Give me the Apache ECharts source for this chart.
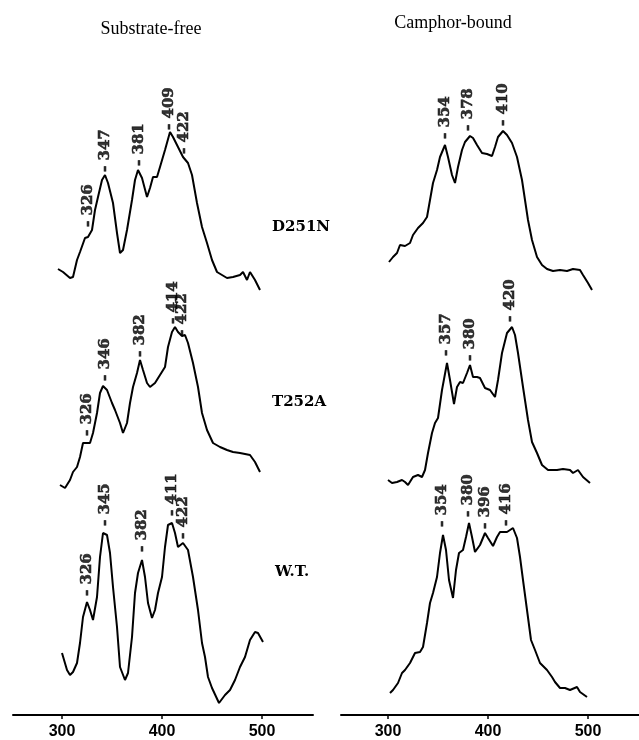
<!DOCTYPE html>
<html>
<head>
<meta charset="utf-8">
<script src="https://cdn.jsdelivr.net/npm/echarts@6/dist/echarts.min.js"></script>
<style>
  html, body { margin: 0; padding: 0; background: #fff; }
  #chart { width: 639px; height: 740px; }
</style>
</head>
<body>
<div id="chart"></div>
<script>
const tickLabels = [300, 400, 500];
const panelTitles = ['Substrate-free', 'Camphor-bound'];
const rowNames = ['D251N', 'T252A', 'W.T.'];

// substrate-free spectra, [wavelength nm, relative intensity]
const freeD251N = [[296,21],[301,18],[308,12],[311,13],[315,30],[318,38],[323,52],[326,53],[330,60],[333,80],[336,93],[340,110],[343,115],[346,107],[351,87],[355,57],[358,37],[361,40],[365,60],[370,90],[373,110],[376,120],[380,112],[385,93],[388,102],[391,113],[395,113],[398,123],[403,140],[408,158],[411,153],[416,143],[421,133],[426,127],[430,115],[435,87],[440,63],[445,47],[450,30],[455,18],[460,15],[465,12],[471,13],[478,15],[481,18],[485,10],[488,18],[493,10],[498,0]];
const freeT252A = [[298,5],[303,2],[308,10],[311,18],[315,23],[318,33],[321,47],[325,47],[328,47],[331,57],[335,77],[338,97],[341,104],[345,100],[350,87],[353,80],[358,67],[361,57],[365,67],[368,87],[371,103],[375,117],[378,130],[381,120],[385,107],[388,103],[393,107],[398,115],[403,123],[406,143],[410,158],[413,163],[416,158],[420,154],[423,155],[426,147],[431,127],[436,103],[440,77],[445,60],[451,47],[458,43],[465,40],[471,38],[478,37],[488,35],[493,28],[498,18]];
const freeWT = [[300,52],[305,35],[308,30],[311,33],[315,42],[318,62],[321,88],[325,103],[328,95],[331,85],[335,108],[338,148],[341,172],[345,170],[348,152],[351,118],[355,78],[358,38],[363,25],[366,32],[370,68],[373,112],[376,132],[380,145],[383,128],[386,102],[390,87],[393,95],[396,112],[400,128],[403,158],[406,180],[410,182],[413,172],[416,158],[421,162],[426,155],[431,128],[436,95],[440,62],[443,48],[446,28],[450,17],[457,2],[463,10],[468,15],[473,25],[478,38],[483,48],[488,65],[493,73],[496,72],[501,63]];

// camphor-bound spectra
const boundD251N = [[301,28],[305,33],[309,37],[312,45],[317,44],[322,47],[325,55],[330,62],[335,67],[339,73],[342,90],[345,107],[349,120],[352,133],[357,145],[360,133],[364,115],[367,107],[370,123],[374,140],[377,148],[382,154],[385,152],[389,145],[394,137],[399,136],[404,134],[407,143],[410,153],[415,159],[419,155],[424,147],[429,133],[434,110],[437,90],[440,70],[444,50],[449,33],[454,25],[459,21],[465,19],[472,20],[479,19],[485,21],[492,20],[495,15],[500,7],[504,0]];
const boundT252A = [[300,10],[304,7],[309,8],[314,10],[317,8],[320,5],[325,13],[330,15],[334,13],[337,20],[340,37],[344,57],[347,67],[350,72],[354,100],[359,127],[362,110],[366,86],[369,103],[372,108],[375,107],[379,117],[382,125],[385,113],[389,113],[392,112],[397,102],[402,100],[407,93],[410,110],[414,137],[419,157],[424,163],[427,155],[430,137],[435,103],[440,70],[444,48],[449,37],[454,25],[460,20],[469,20],[475,21],[482,20],[485,17],[490,20],[495,13],[502,7]];
const boundWT = [[302,12],[305,15],[310,22],[314,32],[317,35],[322,42],[327,52],[332,53],[335,58],[339,82],[342,102],[345,112],[349,128],[352,152],[355,170],[358,155],[361,125],[365,107],[368,135],[371,152],[375,155],[378,168],[381,182],[384,168],[387,153],[392,160],[397,172],[400,167],[405,159],[409,168],[412,173],[419,173],[425,177],[429,167],[432,148],[435,125],[439,95],[443,65],[447,55],[452,42],[459,35],[464,28],[467,23],[472,17],[477,17],[482,15],[489,18],[492,13],[499,8]];

// peak annotations [wavelength, label height, text]
const freePeaksD251N = [[326,63,'326'],[343,118,'347'],[377,124,'381'],[407,160,'409'],[422,136,'422']];
const freePeaksT252A = [[325,54,'326'],[343,109,'346'],[378,133,'382'],[411,166,'414'],[420,154,'422']];
const freePeaksWT = [[325,109,'326'],[343,179,'345'],[380,153,'382'],[410,189,'411'],[421,166,'422']];
const boundPeaksD251N = [[357,151,'354'],[380,159,'378'],[415,164,'410']];
const boundPeaksT252A = [[358,134,'357'],[382,129,'380'],[422,168,'420']];
const boundPeaksWT = [[354,178,'354'],[380,188,'380'],[397,176,'396'],[418,179,'416']];

// vertical stacking of the three traces
const rowOffsets = [425, 225, 10];

const panels = [
  { traces: [freeD251N, freeT252A, freeWT], peaks: [freePeaksD251N, freePeaksT252A, freePeaksWT] },
  { traces: [boundD251N, boundT252A, boundWT], peaks: [boundPeaksD251N, boundPeaksT252A, boundPeaksWT] }
];

const chart = echarts.init(document.getElementById('chart'), null, { renderer: 'canvas' });

const series = [];
panels.forEach((panel, p) => {
  panel.traces.forEach((trace, r) => {
    series.push({
      type: 'line',
      xAxisIndex: p,
      yAxisIndex: p,
      data: trace.map(d => [d[0], d[1] + rowOffsets[r]]),
      symbol: 'none',
      smooth: false,
      lineStyle: { color: '#000', width: 2 },
      silent: true
    });
  });
  panel.peaks.forEach((peaks, r) => {
    series.push({
      type: 'scatter',
      xAxisIndex: p,
      yAxisIndex: p,
      symbolSize: 0,
      data: peaks.map(d => [d[0], d[1] + rowOffsets[r], d[2]]),
      label: {
        show: true,
        position: 'inside',
        rotate: 90,
        align: 'left',
        verticalAlign: 'middle',
        formatter: params => '- ' + params.value[2],
        fontFamily: 'DejaVu Serif',
        fontWeight: 'bold',
        fontSize: 15,
        color: '#000',
        textBorderColor: '#000',
        textBorderWidth: 0.6
      },
      silent: true
    });
  });
});

const xAxisBase = {
  type: 'value',
  position: 'bottom',
  axisLine: { show: true, lineStyle: { color: '#000', width: 2 } },
  axisTick: { show: true, length: 4, customValues: tickLabels, lineStyle: { color: '#000', width: 1.5 } },
  axisLabel: {
    customValues: tickLabels,
    margin: 9,
    fontFamily: 'Liberation Sans',
    fontWeight: 'bold',
    fontSize: 16,
    color: '#000'
  },
  splitLine: { show: false }
};

const option = {
  backgroundColor: '#fff',
  animation: false,
  grid: [
    { left: 13, width: 300, top: 0, bottom: 25 },
    { left: 341, width: 298, top: 0, bottom: 25 }
  ],
  xAxis: [
    Object.assign({}, xAxisBase, { gridIndex: 0, min: 251, max: 551 }),
    Object.assign({}, xAxisBase, { gridIndex: 1, min: 253, max: 551 })
  ],
  yAxis: [
    { type: 'value', gridIndex: 0, min: 0, max: 715, show: false },
    { type: 'value', gridIndex: 1, min: 0, max: 715, show: false }
  ],
  graphic: [
    { type: 'text', x: 151, y: 29, style: { text: panelTitles[0], font: '18px "Liberation Serif"', fill: '#000', align: 'center', verticalAlign: 'middle' } },
    { type: 'text', x: 453, y: 23, style: { text: panelTitles[1], font: '18px "Liberation Serif"', fill: '#000', align: 'center', verticalAlign: 'middle' } },
    { type: 'text', x: 272, y: 227, style: { text: rowNames[0], font: 'bold 15px "DejaVu Serif"', fill: '#000', align: 'left', verticalAlign: 'middle' } },
    { type: 'text', x: 272, y: 402, style: { text: rowNames[1], font: 'bold 15px "DejaVu Serif"', fill: '#000', align: 'left', verticalAlign: 'middle' } },
    { type: 'text', x: 275, y: 572, style: { text: rowNames[2], font: 'bold 15px "DejaVu Serif"', fill: '#000', align: 'left', verticalAlign: 'middle' } }
  ],
  series: series
};

chart.setOption(option);
</script>
</body>
</html>
